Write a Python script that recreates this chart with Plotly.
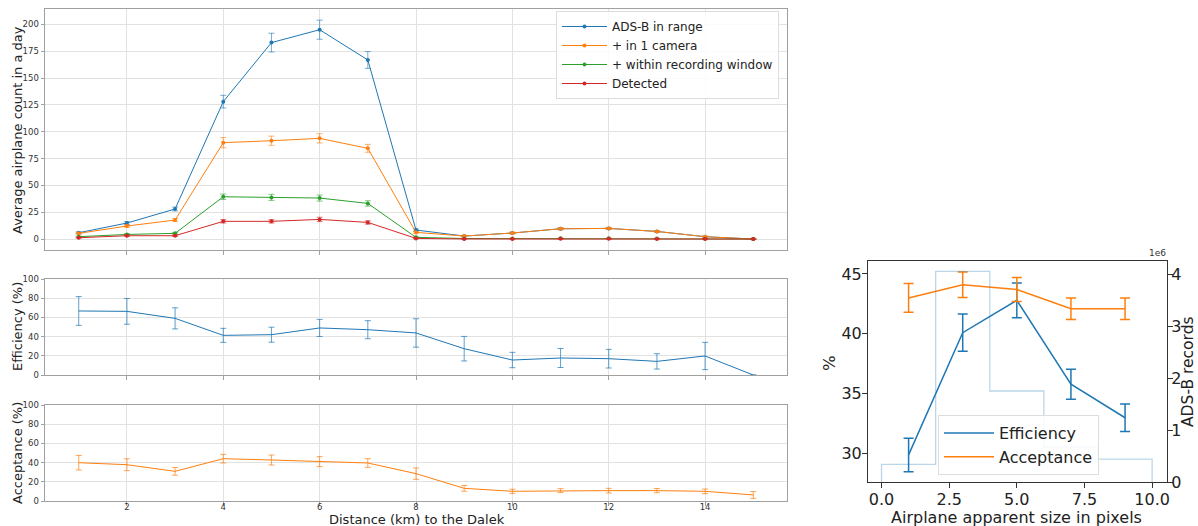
import plotly.graph_objects as go

# ---------------- data ----------------
distance_km = [1, 2, 3, 4, 5, 6, 7, 8, 9, 10, 11, 12, 13, 14, 15]

adsb_in_range = [5.9, 14.9, 28.0, 128.0, 183.0, 195.0, 166.8, 8.4, 2.8, 5.6, 9.6, 9.9, 7.1, 2.2, 0.0]
adsb_in_range_err = [0.8, 1.3, 1.8, 5.9, 8.7, 8.9, 7.8, 1.0, 0.5, 0.7, 0.9, 0.9, 0.8, 0.4, 0.0]
in_one_camera = [5.3, 12.1, 17.7, 89.8, 91.6, 93.8, 84.5, 6.2, 2.8, 5.6, 9.6, 9.9, 7.1, 2.2, 0.0]
in_one_camera_err = [0.7, 1.1, 1.4, 4.7, 4.3, 4.3, 3.7, 0.8, 0.5, 0.7, 0.9, 0.9, 0.8, 0.4, 0.0]
in_window = [2.2, 4.3, 5.3, 39.4, 38.8, 38.2, 33.2, 1.6, 0.5, 0.5, 0.7, 0.7, 0.6, 0.3, 0.0]
in_window_err = [0.5, 0.7, 0.7, 2.5, 2.8, 2.8, 2.5, 0.4, 0.2, 0.2, 0.3, 0.3, 0.2, 0.2, 0.0]
detected = [1.2, 3.1, 3.1, 16.5, 16.5, 18.3, 15.5, 0.6, 0.1, 0.1, 0.2, 0.2, 0.1, 0.1, 0.0]
detected_err = [0.4, 0.6, 0.6, 1.6, 1.6, 2.0, 1.6, 0.3, 0.1, 0.1, 0.1, 0.1, 0.1, 0.1, 0.0]

efficiency_dist = [66.7, 66.3, 59.0, 41.3, 42.0, 49.0, 47.2, 43.8, 27.4, 15.6, 17.7, 17.0, 14.2, 19.8, 0.0]
efficiency_dist_err = [15.0, 13.4, 11.0, 7.3, 7.8, 8.9, 9.4, 14.8, 12.8, 8.0, 9.9, 9.7, 8.0, 14.2, 0.0]
acceptance_dist = [39.9, 37.8, 30.9, 44.1, 42.7, 41.0, 39.6, 28.5, 13.2, 10.1, 10.8, 10.8, 10.8, 10.1, 6.3]
acceptance_dist_err = [7.6, 6.2, 4.0, 4.5, 5.2, 5.2, 4.5, 5.9, 3.0, 2.2, 2.0, 2.4, 2.2, 2.4, 3.5]

size_px = [1, 3, 5, 7, 9]
efficiency_size = [29.9, 40.1, 42.8, 35.8, 33.0]
efficiency_size_err = [1.4, 1.55, 1.45, 1.25, 1.15]
acceptance_size = [43.0, 44.1, 43.7, 42.1, 42.1]
acceptance_size_err = [1.2, 1.07, 1.0, 0.9, 0.9]

hist_edges = [0, 2, 4, 6, 8, 10]
hist_counts = [0.34e6, 4.05e6, 1.75e6, 0.67e6, 0.44e6]

# ---------------- style ----------------
BLUE, ORANGE, GREEN, RED = "#1f77b4", "#ff7f0e", "#2ca02c", "#d62728"
FONT = "DejaVu Sans"
W, H = 1198, 526


def rgba(hexc, a):
    h = hexc.lstrip("#")
    r, g, b = int(h[0:2], 16), int(h[2:4], 16), int(h[4:6], 16)
    return f"rgba({r},{g},{b},{a})"


def px_x(p):
    return p / W


def px_y(p):
    return 1 - p / H


fig = go.Figure()

top_series = [
    ("ADS-B in range", adsb_in_range, adsb_in_range_err, BLUE),
    ("+ in 1 camera", in_one_camera, in_one_camera_err, ORANGE),
    ("+ within recording window", in_window, in_window_err, GREEN),
    ("Detected", detected, detected_err, RED),
]
for name, vals, errs, col in top_series:
    fig.add_trace(go.Scatter(
        x=distance_km, y=vals, name=name, mode="lines+markers",
        line=dict(color=col, width=1), marker=dict(color=col, size=4),
        error_y=dict(type="data", array=errs, width=3, thickness=1, color=rgba(col, 0.6)),
        xaxis="x", yaxis="y", legend="legend",
    ))

fig.add_trace(go.Scatter(
    x=distance_km, y=efficiency_dist, mode="lines", showlegend=False,
    line=dict(color=BLUE, width=1),
    error_y=dict(type="data", array=efficiency_dist_err, width=3, thickness=1, color=rgba(BLUE, 0.7)),
    xaxis="x2", yaxis="y2",
))
fig.add_trace(go.Scatter(
    x=distance_km, y=acceptance_dist, mode="lines", showlegend=False,
    line=dict(color=ORANGE, width=1),
    error_y=dict(type="data", array=acceptance_dist_err, width=3, thickness=1, color=rgba(ORANGE, 0.7)),
    xaxis="x3", yaxis="y3",
))

# histogram step on secondary axis
step_x = [hist_edges[0]] + hist_edges + [hist_edges[-1]]
step_y = [0] + hist_counts + [hist_counts[-1], 0]
fig.add_trace(go.Scatter(
    x=step_x, y=step_y, mode="lines", line=dict(color=rgba(BLUE, 0.3), width=1.3, shape="hv"),
    showlegend=False, xaxis="x4", yaxis="y5", hoverinfo="skip",
))
fig.add_trace(go.Scatter(
    x=size_px, y=efficiency_size, name="Efficiency", mode="lines",
    line=dict(color=BLUE, width=1.5),
    error_y=dict(type="data", array=efficiency_size_err, width=5, thickness=1.5, color=BLUE),
    xaxis="x4", yaxis="y4", legend="legend2",
))
fig.add_trace(go.Scatter(
    x=size_px, y=acceptance_size, name="Acceptance", mode="lines",
    line=dict(color=ORANGE, width=1.5),
    error_y=dict(type="data", array=acceptance_size_err, width=5, thickness=1.5, color=ORANGE),
    xaxis="x4", yaxis="y4", legend="legend2",
))

left_dom = [px_x(45), px_x(787)]
spine = "#a0a0a0"
grid = "#e2e2e2"
small_tick = dict(family=FONT, size=8.5, color="#333")
big_tick = dict(family=FONT, size=16, color="#222")

common_x = dict(range=[0.3, 15.7], tickvals=[2, 4, 6, 8, 10, 12, 14], showgrid=True, gridcolor=grid,
                gridwidth=1, showline=True, linecolor=spine, linewidth=1, mirror=True, ticks="outside",
                ticklen=3.5, tickcolor=spine, zeroline=False, tickfont=small_tick, domain=left_dom,
                ticklabelstandoff=-6, automargin=False)
common_y = dict(showgrid=True, gridcolor=grid, gridwidth=1, showline=True, linecolor=spine, linewidth=1,
                mirror=True, ticks="outside", ticklen=3.5, tickcolor=spine, zeroline=False,
                tickfont=small_tick, automargin=False)


def title_ann(text, x, y, size, angle=0):
    return dict(text=text, x=px_x(x), y=px_y(y), xref="paper", yref="paper",
                xanchor="center", yanchor="middle", showarrow=False, textangle=angle,
                borderpad=0, font=dict(family=FONT, size=size, color="#222"))


annotations = [
    title_ann("Average airplane count in a day", 17, 130, 13, -90),
    title_ann("Efficiency (%)", 17, 327, 13, -90),
    title_ann("Acceptance (%)", 17, 453, 13, -90),
    title_ann("Distance (km) to the Dalek", 417, 519, 13),
    title_ann("%", 829, 363, 16.5, -90),
    title_ann("ADS-B records", 1188, 372, 15.5, -90),
    title_ann("Airplane apparent size in pixels", 1016, 517, 16),
    dict(text="1e6", x=px_x(1167), y=px_y(259), xref="paper", yref="paper",
         xanchor="right", yanchor="bottom", showarrow=False, borderpad=0,
         font=dict(family=FONT, size=9, color="#333")),
]

fig.update_layout(
    width=W, height=H, margin=dict(l=0, r=0, t=0, b=0, autoexpand=False),
    paper_bgcolor="white", plot_bgcolor="white",
    font=dict(family=FONT, color="#222"),
    xaxis=dict(common_x, anchor="y", showticklabels=False),
    yaxis=dict(common_y, anchor="x", domain=[px_y(250), px_y(9)], range=[-10.2, 214.3],
               tickvals=[0, 25, 50, 75, 100, 125, 150, 175, 200]),
    xaxis2=dict(common_x, anchor="y2", showticklabels=False, matches="x"),
    yaxis2=dict(common_y, anchor="x2", domain=[px_y(375), px_y(279)], range=[0, 100],
                tickvals=[0, 20, 40, 60, 80, 100]),
    xaxis3=dict(common_x, anchor="y3", matches="x"),
    yaxis3=dict(common_y, anchor="x3", domain=[px_y(501), px_y(405)], range=[0, 100],
                tickvals=[0, 20, 40, 60, 80, 100]),
    xaxis4=dict(domain=[px_x(868), px_x(1167)], anchor="y4", range=[-0.5, 10.55],
                tickvals=[0, 2.5, 5, 7.5, 10], ticktext=["0.0", "2.5", "5.0", "7.5", "10.0"],
                showgrid=False, zeroline=False, showline=True, linecolor="#333", mirror=True,
                ticks="outside", ticklen=5, tickcolor="#333", tickfont=big_tick,
                ticklabelstandoff=-2, automargin=False),
    yaxis4=dict(domain=[px_y(482), px_y(261)], anchor="x4", range=[27.64, 46.08],
                tickvals=[30, 35, 40, 45], showgrid=False, zeroline=False, showline=True,
                linecolor="#333", ticks="outside", ticklen=5, tickcolor="#333", tickfont=big_tick,
                ticklabelstandoff=-3, automargin=False),
    yaxis5=dict(overlaying="y4", side="right", anchor="x4", range=[0, 4.25e6],
                tickvals=[0, 1e6, 2e6, 3e6, 4e6], ticktext=["0", "1", "2", "3", "4"],
                showgrid=False, zeroline=False, showline=True, linecolor="#333",
                ticks="outside", ticklen=5, tickcolor="#333", tickfont=big_tick,
                ticklabelstandoff=-5, automargin=False),
    legend=dict(x=px_x(556), y=px_y(11), xanchor="left", yanchor="top",
                bgcolor="rgba(255,255,255,0.85)", bordercolor="#dddddd", borderwidth=1,
                font=dict(family=FONT, size=12, color="#222"), tracegroupgap=0,
                itemwidth=45),
    legend2=dict(x=px_x(938), y=px_y(415), xanchor="left", yanchor="top",
                 bgcolor="rgba(255,255,255,0.85)", bordercolor="#dddddd", borderwidth=1,
                 font=dict(family=FONT, size=16, color="#222"), itemwidth=50),
    annotations=annotations,
)

fig.write_html("out.html")
